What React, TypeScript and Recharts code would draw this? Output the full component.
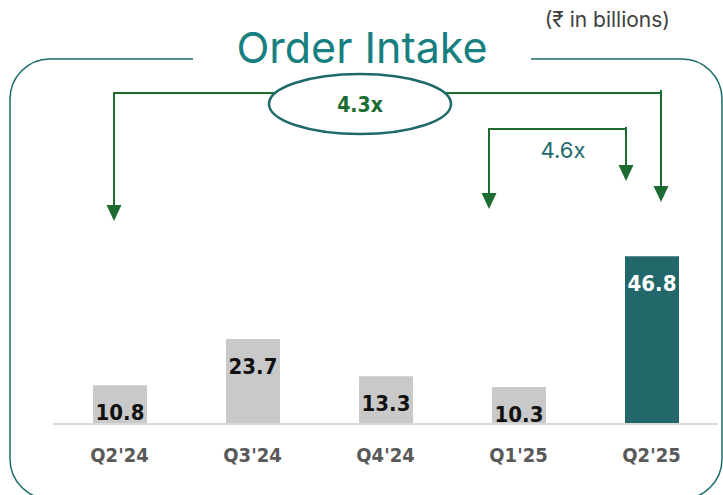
import { BarChart, Bar, XAxis, YAxis, Cell, LabelList } from 'recharts';

const quarters = ["Q2'24", "Q3'24", "Q4'24", "Q1'25", "Q2'25"];
const intake = [10.8, 23.7, 13.3, 10.3, 46.8];

const data = quarters.map((q, i) => ({ q, v: intake[i] }));

const GREEN = '#1c6b30';
const TEAL = '#1e6a6b';
const NARROW = "'DejaVu Sans Condensed', 'Liberation Sans Narrow', sans-serif";

const ValueLabel = (props: any) => {
  const { x, y, width, value, index } = props;
  const last = index === intake.length - 1;
  return (
    <text
      x={x + width / 2}
      y={y + 35}
      textAnchor="middle"
      fontFamily={NARROW}
      fontWeight="bold"
      fontSize={22}
      fill={last ? '#ffffff' : '#111111'}
    >
      {value.toFixed(1)}
    </text>
  );
};

function Arrow({ x, y }: { x: number; y: number }) {
  // tip at (x, y)
  return <polygon points={`${x - 7.5},${y - 16} ${x + 7.5},${y - 16} ${x},${y}`} fill={GREEN} />;
}

export default function App() {
  return (
    <div style={{ position: 'fixed', left: 0, top: 0, width: 723, height: 495, background: '#fff', overflow: 'hidden' }}>
      <svg width={723} height={495} style={{ position: 'absolute', left: 0, top: 0 }}>
        <rect x={10} y={59} width={712} height={440} rx={40} ry={40} fill="none" stroke="#1b6b6b" strokeWidth={1.5} />
        <rect x={193} y={50} width={338} height={20} fill="#fff" />
        <text x={362} y={63} textAnchor="middle" fontFamily="Inter, Roboto, sans-serif" fontSize={43} fill="#168080">
          Order Intake
        </text>
        <text x={670} y={27} textAnchor="end" fontFamily="Inter, 'Noto Sans', sans-serif" fontSize={21} fill="#404040">
          (₹ in billions)
        </text>
      </svg>
      <div style={{ position: 'absolute', left: 0, top: 0 }}>
        <BarChart width={723} height={495} data={data} margin={{ top: 209, right: 5, bottom: 41, left: 53 }}>
          <XAxis
            dataKey="q"
            axisLine={{ stroke: '#d9d9d9', strokeWidth: 2 }}
            tickLine={false}
            tickSize={0}
            tickMargin={24}
            height={30}
            tick={{ fill: '#595959', fontSize: 20, fontWeight: 'bold', fontFamily: NARROW }}
          />
          <YAxis hide domain={[0, 60]} />
          <Bar dataKey="v" barSize={54} isAnimationActive={false}>
            {data.map((d, i) => (
              <Cell key={d.q} fill={i === data.length - 1 ? '#22676a' : '#c9c9c9'} />
            ))}
            <LabelList dataKey="v" content={ValueLabel} />
          </Bar>
        </BarChart>
      </div>
      <svg width={723} height={495} style={{ position: 'absolute', left: 0, top: 0, pointerEvents: 'none' }}>
        {/* 4.3x bracket */}
        <polyline points="114,206 114,93 661,93" fill="none" stroke={GREEN} strokeWidth={2} />
        <line x1={661} y1={90} x2={661} y2={188} stroke={GREEN} strokeWidth={2} />
        <Arrow x={114} y={221} />
        <Arrow x={661} y={202} />
        <ellipse cx={360} cy={104} rx={91} ry={30} fill="#fff" stroke={TEAL} strokeWidth={2.5} />
        <text x={360} y={112} textAnchor="middle" fontFamily={NARROW} fontWeight="bold" fontSize={21} fill={GREEN}>
          4.3x
        </text>
        {/* 4.6x bracket */}
        <polyline points="489,195 489,129 626,129" fill="none" stroke={GREEN} strokeWidth={2} />
        <line x1={626} y1={127} x2={626} y2={167} stroke={GREEN} strokeWidth={2} />
        <Arrow x={489} y={209} />
        <Arrow x={626} y={181} />
        <text x={563} y={158} textAnchor="middle" fontFamily="Inter, Roboto, sans-serif" fontSize={22} fill={TEAL}>
          4.6x
        </text>
      </svg>
    </div>
  );
}
